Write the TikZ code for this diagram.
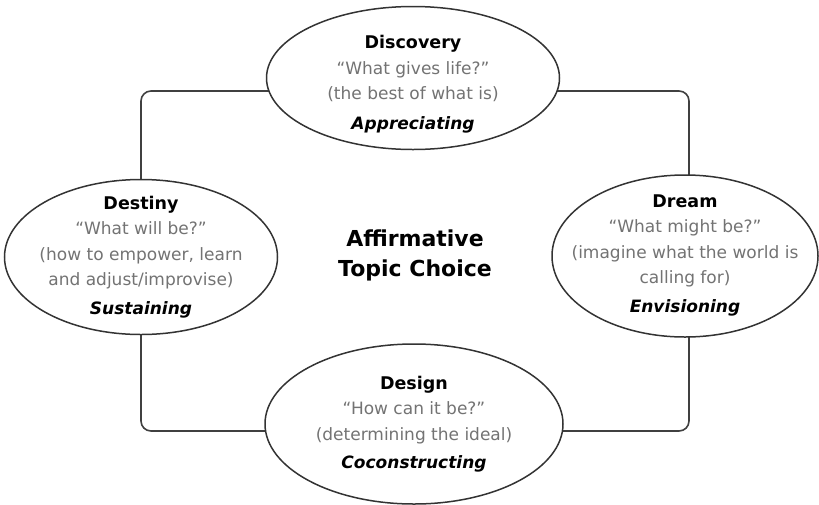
\documentclass[tikz,border=0pt]{standalone}
\usepackage{fontspec}
\setmainfont{DejaVu Sans}
\usetikzlibrary{shapes.geometric,backgrounds}

\tikzset{
  phase/.style={ellipse, draw=black!80, line width=1.5pt, fill=white, inner sep=0pt},
  link/.style={draw=black!75, line width=1.6pt, rounded corners=10pt},
  phasetext/.style={align=center, font=\fontsize{17}{25.5}\selectfont, text=black!55},
}
\newcommand{\phasename}[1]{{\color{black}\fontsize{17.5}{25.5}\selectfont\bfseries #1}}
\newcommand{\phaseverb}[1]{{\color{black}\bfseries\itshape #1}}

\begin{document}
\begin{tikzpicture}[x=1pt,y=-1pt]
    \useasboundingbox (0,0) rectangle (819,504);

    % the four phases
    \node[phase, minimum width=293, minimum height=143] (disc) at (413,78) {};
    \node[phase, minimum width=273, minimum height=155] (dest) at (141,257) {};
    \node[phase, minimum width=266, minimum height=162] (dream) at (685,256) {};
    \node[phase, minimum width=298, minimum height=160] (design) at (414,424) {};

    % the loop behind them
    \begin{scope}[on background layer]
        \draw[link] ([yshift=-13pt]disc.center) -| ([xshift=4pt]dream.center)
            |- ([yshift=-7pt]design.center) -| (dest.center)
            |- ([yshift=-13pt]disc.center);
    \end{scope}

    % texts in the phases
    \node[phasetext] (disc-text) at (413,84)
        {\phasename{Discovery}\\“What gives life?”\\(the best of what is)\\[4pt]\phaseverb{Appreciating}};
    \node[phasetext] (dest-text) at (141,257)
        {\phasename{Destiny}\\“What will be?”\\(how to empower, learn\\and adjust/improvise)\\[3pt]\phaseverb{Sustaining}};
    \node[phasetext] (dream-text) at (685,255)
        {\phasename{Dream}\\“What might be?”\\(imagine what the world is\\calling for)\\[3pt]\phaseverb{Envisioning}};
    \node[phasetext] (design-text) at (414,424)
        {\phasename{Design}\\“How can it be?”\\(determining the ideal)\\[3pt]\phaseverb{Coconstructing}};

    % topic in the middle
    \node[align=center, font=\fontsize{22}{30}\selectfont\bfseries] (topic) at (415,255)
        {Affirmative\\Topic Choice};
\end{tikzpicture}
\end{document}
